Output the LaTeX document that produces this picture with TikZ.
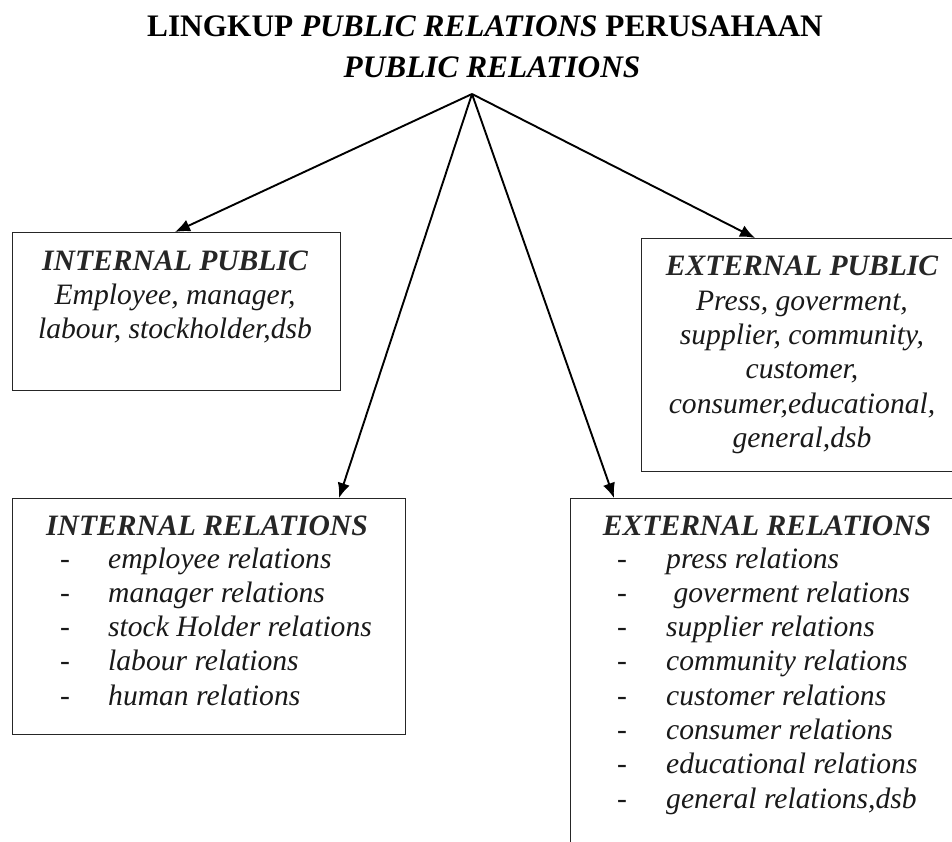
\documentclass[tikz,border=0pt]{standalone}
\usepackage{fontspec}
\setmainfont{Liberation Serif}
\usetikzlibrary{arrows.meta,calc}

\tikzset{
  frame/.style={draw=black!85, line width=1.4pt, inner sep=0pt, anchor=north west},
  headline/.style={inner sep=0pt, anchor=base, font=\fontsize{31.3}{36}\selectfont\bfseries},
  boxhead/.style={inner sep=0pt, anchor=base, font=\fontsize{29.6}{34}\selectfont\bfseries\itshape, text=black!85},
  boxline/.style={inner sep=0pt, anchor=base, font=\fontsize{29.6}{34}\selectfont\itshape, text=black!90},
  listitem/.style={inner sep=0pt, anchor=base west, font=\fontsize{29.6}{34}\selectfont\itshape, text=black!90},
  dashmark/.style={inner sep=0pt, anchor=base, font=\fontsize{29.6}{34}\selectfont, text=black!90},
  link/.style={line width=1.9pt, -{Latex[length=15pt,width=12.5pt]}}
}

\begin{document}
\begin{tikzpicture}[x=1pt,y=-1pt]
\useasboundingbox (0,0) rectangle (952,842);
\clip (0,0) rectangle (952,842);
\fill[white] (0,0) rectangle (952,842);

% heading
\node[headline] (head1) at (485,37) {LINGKUP \textit{PUBLIC RELATIONS} PERUSAHAAN};
\node[headline] (head2) at (492,78) {\textit{PUBLIC RELATIONS}};
\coordinate (pr) at (472,94);

% frames
\node[frame, minimum width=328pt, minimum height=158pt] (ip) at (12,232) {};
\node[frame, minimum width=400pt, minimum height=233pt] (ep) at (641,238) {};
\node[frame, minimum width=393pt, minimum height=236pt] (ir) at (12,498) {};
\node[frame, minimum width=400pt, minimum height=400pt] (er) at (570,498) {};

% internal public
\node[boxhead] (iph) at (175,270) {INTERNAL PUBLIC};
\node[boxline] (ip1) at (175,304) {Employee, manager,};
\node[boxline] (ip2) at (175,338) {labour, stockholder,dsb};

% external public
\node[boxhead] (eph) at (802,275) {EXTERNAL PUBLIC};
\node[boxline] (ep1) at (802,310) {Press, goverment,};
\node[boxline] (ep2) at (802,344) {supplier, community,};
\node[boxline] (ep3) at (802,378) {customer,};
\node[boxline] (ep4) at (802,413) {consumer,educational,};
\node[boxline] (ep5) at (802,447) {general,dsb};

% internal relations
\node[boxhead] (irh) at (207,535) {INTERNAL RELATIONS};
\foreach \t [count=\i] in {employee relations, manager relations, stock Holder relations, labour relations, human relations}{
  \node[dashmark] (ird\i) at (65,{568+34.3*(\i-1)}) {-};
  \node[listitem] (iri\i) at (108,{568+34.3*(\i-1)}) {\t};
}

% external relations
\node[boxhead] (erh) at (767,535) {EXTERNAL RELATIONS};
\foreach \t [count=\i] in {press relations, {\ goverment relations}, supplier relations, community relations, customer relations, consumer relations, educational relations, {general relations,dsb}}{
  \node[dashmark] (erd\i) at (622,{568+34.3*(\i-1)}) {-};
  \node[listitem] (eri\i) at (666,{568+34.3*(\i-1)}) {\t};
}

% connectors
\draw[link] (pr) -- ($(ip.north west)+(163,0)$);
\draw[link] (pr) -- ($(ir.north west)+(327,0)$);
\draw[link] (pr) -- ($(er.north west)+(44,0)$);
\draw[link] (pr) -- ($(ep.north west)+(114,0)$);
\end{tikzpicture}
\end{document}
